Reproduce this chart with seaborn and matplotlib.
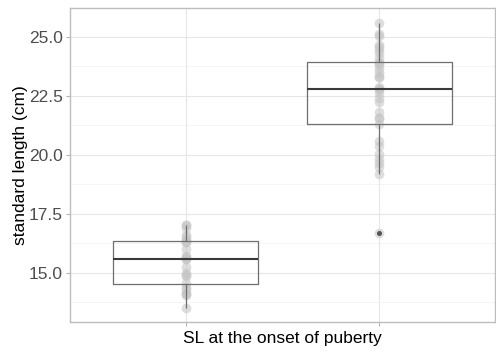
import matplotlib
matplotlib.use("Agg")
import matplotlib.pyplot as plt
from matplotlib.ticker import MultipleLocator
import seaborn as sns
import pandas as pd

# values (cm)
group_names = ["first", "second"]
xtick_labels = ["", ""]
sl_first = [13.5, 14.05, 14.1, 14.15, 14.3, 14.4, 14.55, 14.85, 14.9, 15.0,
            15.25, 15.6, 15.6, 15.65, 15.7, 16.0, 16.3, 16.3, 16.4, 16.5,
            16.6, 16.9, 17.0, 17.0]
sl_second = [16.7, 19.2, 19.5, 19.65, 19.8, 20.05, 20.35, 20.6, 21.3, 21.55,
             21.55, 21.8, 22.25, 22.4, 22.6, 22.8, 22.8, 22.85, 23.3, 23.3,
             23.45, 23.65, 23.8, 23.9, 23.95, 24.1, 24.3, 24.45, 24.55, 24.65,
             25.05, 25.1, 25.6]

df = pd.DataFrame({
    "group": [group_names[0]] * len(sl_first) + [group_names[1]] * len(sl_second),
    "sl": sl_first + sl_second,
})

sns.set_style("white")
plt.rcParams["font.family"] = ["Liberation Sans", "DejaVu Sans"]

fig = plt.figure(figsize=(4.96, 3.52), dpi=100)
ax = fig.add_axes([0.141, 0.086, 0.857, 0.89])

sns.stripplot(data=df, x="group", y="sl", order=group_names, jitter=False,
              color="#C4C4C4", alpha=0.55, size=7, linewidth=0, ax=ax, zorder=2)
sns.boxplot(data=df, x="group", y="sl", order=group_names, width=0.75,
            fill=False, color="#6E6E6E", linewidth=0.9, showcaps=False,
            medianprops={"color": "#3A3A3A", "linewidth": 1.5},
            flierprops={"marker": "o", "markersize": 2.6,
                        "markerfacecolor": "#555555", "markeredgecolor": "#555555"},
            ax=ax, zorder=3)

ax.set_xlim(-0.6, 1.6)
ax.set_ylim(12.92, 26.2)
ax.yaxis.set_major_locator(MultipleLocator(2.5))
ax.yaxis.set_minor_locator(MultipleLocator(1.25))
ax.yaxis.set_major_formatter(matplotlib.ticker.FormatStrFormatter("%.1f"))
ax.set_xticks([0, 1])
ax.set_xticklabels(xtick_labels)

ax.grid(True, which="major", color="#E6E6E6", linewidth=0.8, zorder=0)
ax.grid(True, which="minor", axis="y", color="#F1F1F1", linewidth=0.5, zorder=0)
ax.set_axisbelow(True)

for sp in ax.spines.values():
    sp.set_color("#BDBDBD")
    sp.set_linewidth(1.0)

ax.tick_params(axis="both", which="major", length=3, color="#B3B3B3",
               labelsize=12.5, labelcolor="#4D4D4D", left=True, bottom=True, pad=2)
ax.tick_params(axis="y", which="minor", length=0)

ax.set_xlabel("SL at the onset of puberty", fontsize=12.5, color="black", labelpad=2)
ax.set_ylabel("standard length (cm)", fontsize=12.5, color="black", labelpad=1)

fig.savefig("out.png", dpi=100)
